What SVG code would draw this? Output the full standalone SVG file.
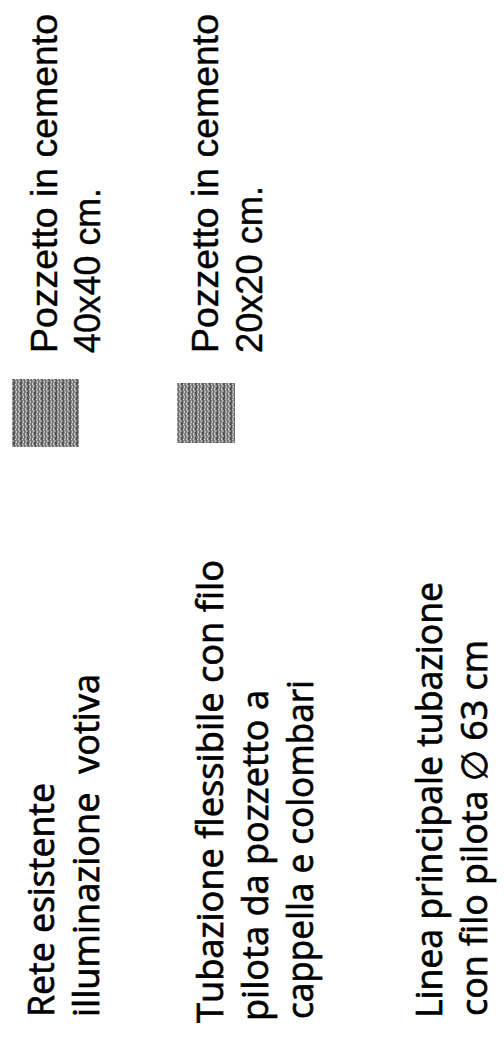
<svg xmlns="http://www.w3.org/2000/svg" width="504" height="1044" viewBox="0 0 504 1044">
<style>
.a{font-family:"Liberation Sans",Arial,sans-serif;font-size:37px;fill:#000;stroke:#000;stroke-width:0.4px}
.h{font-family:"Open Sans","Noto Sans","DejaVu Sans",sans-serif;font-size:36px;fill:#000;stroke:#000;stroke-width:0.7px}
</style>
<defs>
<pattern id="tex" width="7" height="5" patternUnits="userSpaceOnUse">
<rect width="7" height="5" fill="#8c8c8c"/>
<rect x="0" y="0" width="1" height="5" fill="#5a5a5a"/>
<rect x="2" y="1" width="1" height="2" fill="#c8c8c8"/>
<rect x="3" y="0" width="1" height="5" fill="#6e6e6e"/>
<rect x="4" y="3" width="1" height="2" fill="#d2d2d2"/>
<rect x="5" y="0" width="1" height="2" fill="#b4b4b4"/>
<rect x="6" y="2" width="1" height="3" fill="#505050"/>
<rect x="1" y="4" width="1" height="1" fill="#e0e0e0"/>
</pattern>
</defs>
<rect width="504" height="1044" fill="#fff"/>
<g id="connectors"/>
<g id="pozzetto-40x40">
<rect x="12" y="379" width="67" height="68" fill="url(#tex)"/>
<text class="a" transform="translate(57,353) rotate(-90)" textLength="339" lengthAdjust="spacingAndGlyphs">Pozzetto in cemento</text>
<text class="a" transform="translate(100,353) rotate(-90)" textLength="165" lengthAdjust="spacingAndGlyphs">40x40 cm.</text>
</g>
<g id="pozzetto-20x20">
<rect x="177" y="383" width="58" height="60" fill="url(#tex)"/>
<text class="a" transform="translate(218,353) rotate(-90)" textLength="339" lengthAdjust="spacingAndGlyphs">Pozzetto in cemento</text>
<text class="a" transform="translate(262,353) rotate(-90)" textLength="167" lengthAdjust="spacingAndGlyphs">20x20 cm.</text>
</g>
<g id="rete-esistente">
<text class="h" transform="translate(54,1017) rotate(-90)" textLength="234" lengthAdjust="spacingAndGlyphs">Rete esistente</text>
<text class="h" transform="translate(99,1017) rotate(-90)" textLength="343" lengthAdjust="spacingAndGlyphs" xml:space="preserve">illuminazione  votiva</text>
</g>
<g id="tubazione-flessibile">
<text class="h" transform="translate(223,1023) rotate(-90)" textLength="463" lengthAdjust="spacingAndGlyphs">Tubazione flessibile con filo</text>
<text class="h" transform="translate(268,1021) rotate(-90)" textLength="331" lengthAdjust="spacingAndGlyphs">pilota da pozzetto a</text>
<text class="h" transform="translate(313,1019) rotate(-90)" textLength="339" lengthAdjust="spacingAndGlyphs">cappella e colombari</text>
</g>
<g id="linea-principale">
<text class="h" transform="translate(442,1018) rotate(-90)" textLength="436" lengthAdjust="spacingAndGlyphs">Linea principale tubazione</text>
<text class="h" transform="translate(487,1016) rotate(-90)" textLength="376" lengthAdjust="spacingAndGlyphs">con filo pilota ∅ 63 cm</text>
</g>
</svg>
